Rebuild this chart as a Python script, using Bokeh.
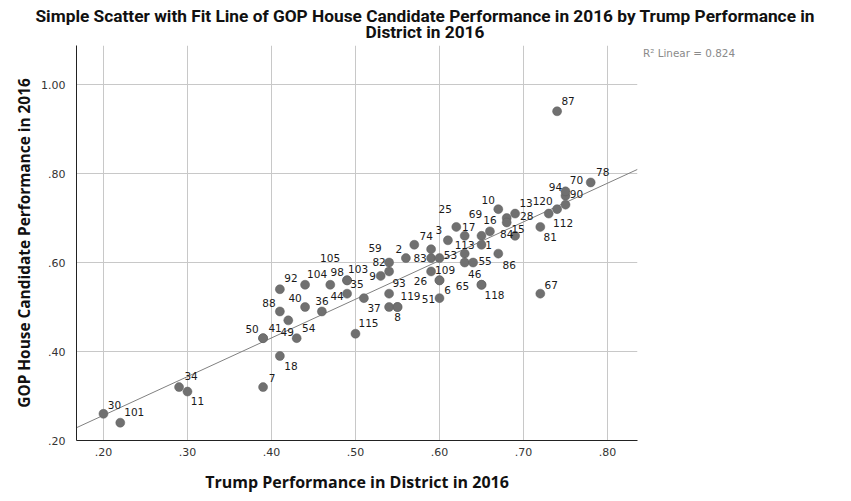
import numpy as np
from bokeh.plotting import figure
from bokeh.layouts import column, row
from bokeh.models import (ColumnDataSource, Range1d, Div, FixedTicker,
                          CustomJSTickFormatter)
from bokeh.core.properties import value
from bokeh.embed import file_html
from bokeh.resources import INLINE

# ---- data (district id, Trump share, GOP House candidate share) ----
district = ["30", "101", "34", "11", "7", "18", "50", "41", "49", "54",
            "88", "92", "40", "104", "36", "98", "103", "105", "44", "35",
            "115", "59", "82", "9", "2", "93", "119", "37", "8", "74",
            "", "83", "53", "109", "26", "6", "51", "3", "25", "17",
            "113", "46", "55", "69", "1", "16", "10", "86", "28", "84",
            "13", "15", "65", "118", "81", "67", "120", "112", "90", "94",
            "70", "78", "87"]
trump = [0.20, 0.22, 0.29, 0.30, 0.39, 0.41, 0.39, 0.39, 0.42, 0.43,
         0.41, 0.41, 0.44, 0.44, 0.46, 0.47, 0.49, 0.49, 0.49, 0.51,
         0.50, 0.54, 0.54, 0.53, 0.56, 0.54, 0.55, 0.54, 0.55, 0.57,
         0.59, 0.59, 0.60, 0.59, 0.60, 0.60, 0.60, 0.61, 0.62, 0.63,
         0.63, 0.63, 0.64, 0.65, 0.65, 0.66, 0.67, 0.67, 0.68, 0.68,
         0.69, 0.69, 0.65, 0.65, 0.72, 0.72, 0.73, 0.74, 0.75, 0.75,
         0.75, 0.78, 0.74]
gop = [0.26, 0.24, 0.32, 0.31, 0.32, 0.39, 0.43, 0.43, 0.47, 0.43,
       0.49, 0.54, 0.50, 0.55, 0.49, 0.55, 0.56, 0.56, 0.53, 0.52,
       0.44, 0.60, 0.58, 0.57, 0.61, 0.53, 0.50, 0.50, 0.50, 0.64,
       0.63, 0.61, 0.61, 0.58, 0.56, 0.56, 0.52, 0.65, 0.68, 0.66,
       0.62, 0.60, 0.60, 0.66, 0.64, 0.67, 0.72, 0.62, 0.70, 0.69,
       0.71, 0.66, 0.55, 0.55, 0.68, 0.53, 0.71, 0.72, 0.73, 0.75,
       0.76, 0.78, 0.94]

x_ticks = [0.2, 0.3, 0.4, 0.5, 0.6, 0.7, 0.8]
y_ticks = [0.2, 0.4, 0.6, 0.8, 1.0]
r2_text = "R\u00b2 Linear = 0.824"
title_lines = ["Simple Scatter with Fit Line of GOP House Candidate Performance in 2016 by Trump Performance in",
               "District in 2016"]
x_title = "Trump Performance in District in 2016"
y_title = "GOP House Candidate Performance in 2016"

# ---- label placement (screen-pixel offsets of each point label; layout only) ----
label_dx = [11, 14, 12, 10, 9, 11, -11, 12, -1, 12,
            -11, 11, -10, 12, 0, 7, 11, -17, -10, -7,
            13, -14, -10, -8, -7, 10, 13, -15, 0, 12,
            0, -11, 11, 14, -19, 8, -11, -9, -11, 4,
            0, 10, 12, -6, 7, 0, -10, 11, 20, 0,
            11, 3, -19, 13, 10, 11, -6, 6, 11, -10,
            11, 12, 11]
label_dy = [-9, -11, -11, 9, -9, 10, -9, -10, 12, -10,
            -8, -11, -9, -11, -10, -13, -11, -22, 2, -14,
            -11, -15, -9, 0, -9, -11, -11, 1, 10, -9,
            0, 0, -3, -1, 1, 10, 1, -10, -18, -9,
            -9, 11, -2, -22, 0, -11, -9, 11, -2, 12,
            -11, -7, 1, 10, 10, -9, -13, 14, -11, -9,
            -11, -10, -10]

src = ColumnDataSource(dict(x=trump, y=gop, lab=district, dx=label_dx, dy=label_dy))

x0, x1 = 0.1679, 0.8357
fig = figure(width=633, height=453, output_backend="svg", toolbar_location=None,
             x_range=Range1d(x0, x1), y_range=Range1d(0.20, 1.0878),
             min_border_left=68, min_border_right=4, min_border_top=0,
             min_border_bottom=58)
fig.outline_line_color = None
fig.background_fill_color = "white"
fig.border_fill_color = "white"

fmt = CustomJSTickFormatter(code="return tick.toFixed(2).replace(/^0/, '');")
for ax, ticks in ((fig.xaxis[0], x_ticks), (fig.yaxis[0], y_ticks)):
    ax.ticker = FixedTicker(ticks=ticks)
    ax.formatter = fmt
    ax.major_tick_line_color = None
    ax.minor_tick_line_color = None
    ax.axis_line_color = "#222222"
    ax.axis_line_width = 1
    ax.major_label_text_font = "DejaVu Sans"
    ax.major_label_text_font_size = "11px"
    ax.major_label_text_color = "#333333"
    ax.axis_label_text_font = "Open Sans"
    ax.axis_label_text_font_style = "bold"
    ax.axis_label_text_color = "#111111"

fig.xaxis.axis_label = x_title
fig.yaxis.axis_label = y_title
fig.xaxis.axis_label_text_font_size = "16px"
fig.yaxis.axis_label_text_font_size = "15.4px"
fig.xaxis.major_label_standoff = 1
fig.yaxis.major_label_standoff = 5
fig.xaxis.axis_label_standoff = 12
fig.yaxis.axis_label_standoff = 3

fig.xgrid.ticker = FixedTicker(ticks=x_ticks)
fig.ygrid.ticker = FixedTicker(ticks=y_ticks)
for g in (fig.xgrid[0], fig.ygrid[0]):
    g.grid_line_color = "#c8c8c8"
    g.grid_line_width = 1

# fit line (least squares on the data), drawn across the x range
slope, intercept = np.polyfit(np.array(trump), np.array(gop), 1)
fx = np.array([x0, x1])
fig.line(fx, intercept + slope * fx, line_color="#808080", line_width=1)

fig.scatter("x", "y", source=src, size=9, fill_color="#707070", line_color="#606060",
            line_width=0.5)
fig.text("x", "y", text="lab", source=src, x_offset="dx", y_offset="dy",
         text_font=value("DejaVu Sans"), text_font_size="10.5px", text_color="#1a1a1a",
         text_align="center", text_baseline="middle")

title_style = ('text-align:center;font-family:Roboto,sans-serif;font-weight:bold;'
               'font-size:17.3px;line-height:16px;color:#111111;white-space:nowrap;'
               'margin:0;padding:0;')
title_html = (
    '<div style="width:834px;">'
    + '<div style="' + title_style + '">' + title_lines[0] + '</div>'
    + '<div style="' + title_style + '">' + title_lines[1] + '</div>'
    + '</div>'
)
title_div = Div(text=title_html, width=834, height=37, margin=(0, 0, 0, 0))

r2_html = ('<div style="padding-left:2px;font-family:\'DejaVu Sans\',sans-serif;'
           'font-size:10.4px;line-height:16px;color:#8a8a8a;white-space:nowrap;">'
           + r2_text + "</div>")
r2_div = Div(text=r2_html, width=190, height=20, margin=(0, 0, 0, 0))

p = column(title_div, row(fig, r2_div, spacing=0), spacing=0, margin=(8, 8, 0, 8))

open("out.html", "w").write(file_html(p, INLINE))
